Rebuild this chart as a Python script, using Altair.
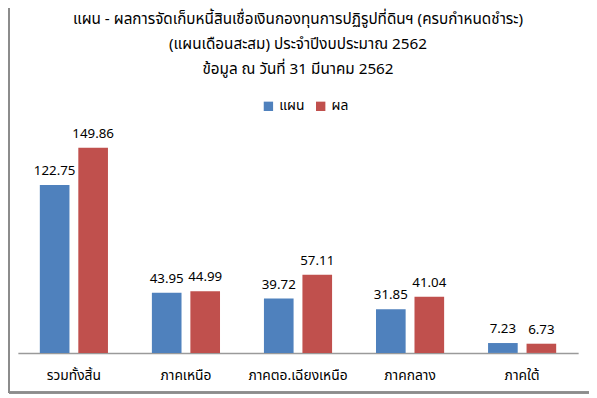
import altair as alt
import pandas as pd

categories = ["รวมทั้งสิ้น", "ภาคเหนือ", "ภาคตอ.เฉียงเหนือ", "ภาคกลาง", "ภาคใต้"]
plan = [122.75, 43.95, 39.72, 31.85, 7.23]
result = [149.86, 44.99, 57.11, 41.04, 6.73]
series = ["แผน", "ผล"]
colors = ["#4F81BD", "#C0504D"]
title_lines = [
    "แผน - ผลการจัดเก็บหนี้สินเชื่อเงินกองทุนการปฏิรูปที่ดินฯ (ครบกำหนดชำระ)",
    "(แผนเดือนสะสม)  ประจำปีงบประมาณ 2562",
    "ข้อมูล ณ วันที่ 31 มีนาคม 2562",
]

rows = []
for c, p, r in zip(categories, plan, result):
    rows.append({"cat": c, "series": series[0], "value": p, "label": f"{p:.2f}"})
    rows.append({"cat": c, "series": series[1], "value": r, "label": f"{r:.2f}"})
df = pd.DataFrame(rows)

FONT = "Tahoma, 'Noto Sans Thai', 'Leelawadee UI', 'DejaVu Sans', sans-serif"

x = alt.X("cat:N", sort=categories, title=None,
          scale=alt.Scale(paddingInner=0.392, paddingOuter=0.196),
          axis=alt.Axis(labelAngle=0, ticks=False, domainColor="#9a9a9a", domainWidth=1.5,
                        labelFontSize=14, labelColor="#000000", labelPadding=16,
                        labelFont=FONT, grid=False))
xo = alt.XOffset("series:N", sort=series, scale=alt.Scale(paddingInner=0.23, paddingOuter=0))
y = alt.Y("value:Q", scale=alt.Scale(domain=[0, 160]), axis=None)

bars = alt.Chart(df).mark_bar().encode(
    x=x, xOffset=xo, y=y,
    color=alt.Color("series:N", sort=series,
                    scale=alt.Scale(domain=series, range=colors),
                    legend=alt.Legend(title=None, orient="none", direction="horizontal",
                                      legendX=247, legendY=-35, symbolType="square",
                                      symbolSize=90, symbolStrokeWidth=0,
                                      labelFontSize=14, labelFont=FONT,
                                      labelColor="#000000", columnPadding=9,
                                      symbolOpacity=1)),
)

labels = alt.Chart(df).mark_text(baseline="bottom", dy=-7, fontSize=13.5, font=FONT,
                                 color="#000000").encode(
    x=alt.X("cat:N", sort=categories), xOffset=xo, y=y, text="label:N"
)

left_border = alt.Chart(df).mark_rule(color="#8c8c8c", strokeWidth=1.5).encode(
    x=alt.value(-9), y=alt.value(-130), y2=alt.value(262)
)
bottom_border = alt.Chart(df).mark_rule(color="#8c8c8c", strokeWidth=1.5).encode(
    x=alt.value(-9), x2=alt.value(590), y=alt.value(262)
)

chart = alt.layer(bars, labels, left_border, bottom_border).properties(
    width=568, height=222,
    title=alt.TitleParams(text=title_lines, anchor="middle", fontSize=15.5,
                          fontWeight="normal", font=FONT, color="#000000",
                          lineHeight=25, offset=-73),
    autosize=alt.AutoSizeParams(type="none"),
    padding={"left": 10, "top": 125, "right": 11, "bottom": 42},
).configure(background="white", view=alt.ViewConfig(stroke=None))

chart.save("out.html", embed_options={"renderer": "svg", "actions": False})
